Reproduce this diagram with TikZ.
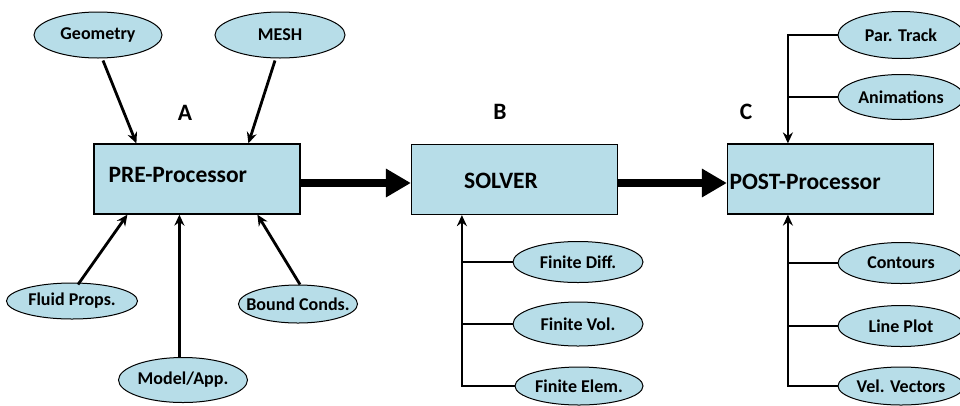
\documentclass[tikz,border=0pt]{standalone}
\usepackage{fontspec}
\setmainfont{Carlito}
\usetikzlibrary{arrows.meta,calc,shapes.geometric}
\definecolor{boxfill}{HTML}{B7DDE8}
\newcommand\ovtext[1]{\makebox[0pt]{#1}}
\tikzset{
  oval/.style={ellipse, draw=black, line width=1pt, fill=boxfill, inner sep=0pt,
    font=\fontsize{18}{20}\selectfont\bfseries},
  block/.style={rectangle, draw=black, line width=1.2pt, fill=boxfill, minimum width=206pt,
    minimum height=70pt, inner sep=0pt},
  boxtext/.style={font=\fontsize{23.5}{27}\selectfont\bfseries},
  arr/.style={line width=2.8pt, -{Stealth[length=11pt,width=10pt]}},
  ln/.style={line width=2.8pt},
  bigarr/.style={line width=8pt, -{Triangle[length=25pt,width=27pt]}},
}
\begin{document}
\begin{tikzpicture}[x=1pt,y=-1pt]
\useasboundingbox (0,0) rectangle (960,405);
\begin{scope}
\clip (0,0) rectangle (960,405);
% blocks
\node[block] (pre) at (197,179) {};
\node[block] (solver) at (514.5,179.5) {};
\node[block] (post) at (830.5,179) {};
\node[boxtext, anchor=west] (pretxt) at (105,175) {PRE-Processor};
\node[boxtext] (soltxt) at (501,181) {SOLVER};
\node[boxtext, anchor=west] (posttxt) at (726,182) {POST-Processor};
\node[boxtext] (la) at (185,113) {A};
\node[boxtext] (lb) at (500,112) {B};
\node[boxtext] (lc) at (746,112) {C};
% ellipses
\node[oval, minimum width=128pt, minimum height=46pt] (geo) at (98,35) {\ovtext{Geometry}};
\node[oval, minimum width=130pt, minimum height=46pt] (mesh) at (280,35) {\ovtext{MESH}};
\node[oval, minimum width=131pt, minimum height=36pt] (fluid) at (72,301) {\ovtext{Fluid Props.}};
\node[oval, minimum width=119pt, minimum height=38pt] (bound) at (298,304) {\ovtext{Bound Conds.}};
\node[oval, minimum width=129pt, minimum height=45pt] (model) at (183,380) {\ovtext{Model/App.}};
\node[oval, minimum width=130pt, minimum height=41pt] (fd) at (578,262) {\ovtext{Finite Diff.}};
\node[oval, minimum width=130pt, minimum height=44pt] (fv) at (578,324) {\ovtext{Finite Vol.}};
\node[oval, minimum width=128pt, minimum height=38pt] (fe) at (579,386) {\ovtext{Finite Elem.}};
\node[oval, minimum width=126pt, minimum height=47pt] (pt) at (901,35) {\ovtext{Par. Track}};
\node[oval, minimum width=126pt, minimum height=45pt] (an) at (901,97) {\ovtext{Animations}};
\node[oval, minimum width=126pt, minimum height=41pt] (co) at (901,263) {\ovtext{Contours}};
\node[oval, minimum width=126pt, minimum height=41pt] (lp) at (901,326) {\ovtext{Line Plot}};
\node[oval, minimum width=126pt, minimum height=38pt] (vv) at (901,386) {\ovtext{Vel. Vectors}};
% pre-processor inputs
\draw[arr] ($(geo.south)+(5,2)$) -- ($(pre.north west)+(43,0)$);
\draw[arr] ($(mesh.south)+(-5,2)$) -- ($(pre.north west)+(155,0)$);
\draw[arr] ($(fluid.north)+(6,2)$) -- ($(pre.south west)+(34,0)$);
\coordinate (pm) at ($(pre.south west)+(86,0)$);
\draw[arr] (model.north -| pm) -- (pm);
\draw[arr] ($(bound.north)+(2,0)$) -- ($(pre.south west)+(164,0)$);
% main flow
\draw[bigarr] ($(pre.east)+(0,4)$) -- ($(solver.west)+(0,3.5)$);
\draw[bigarr] ($(solver.east)+(0,3.5)$) -- ($(post.west)+(0,4)$);
% solver methods
\coordinate (sb) at ($(solver.south west)+(51,0)$);
\draw[arr] (fe.west) -| (sb);
\draw[ln] (fd.west) -- (fd.west -| sb);
\draw[ln] (fv.west) -- (fv.west -| sb);
% post outputs
\coordinate (pto) at ($(post.north west)+(61,0)$);
\coordinate (pbo) at ($(post.south west)+(61,0)$);
\draw[arr] (pt.west) -| (pto);
\draw[ln] (an.west) -- (an.west -| pto);
\draw[arr] (vv.west) -| (pbo);
\draw[ln] (co.west) -- (co.west -| pbo);
\draw[ln] (lp.west) -- (lp.west -| pbo);
\end{scope}
\end{tikzpicture}
\end{document}
